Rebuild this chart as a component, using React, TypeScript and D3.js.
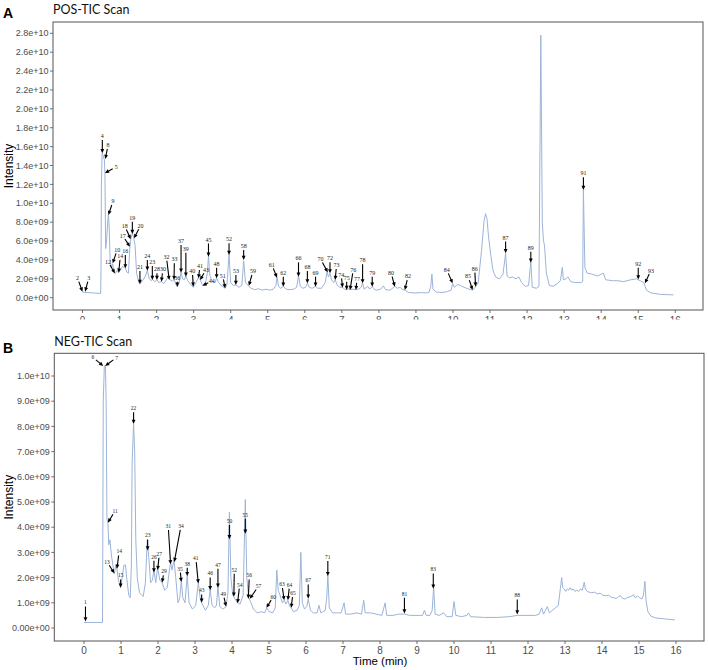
import React from 'react';
import * as d3 from 'd3';

// ---------- DATA (intensity in units of 1e9) ----------
const posTrace: [number, number][] = [
  [0.0, 0.6], [0.1, 0.55], [0.3, 0.5], [0.49, 0.45], [0.5, 3.0], [0.51, 12.0], [0.53, 15.3], [0.56, 15.0],
  [0.59, 14.6], [0.605, 13.3], [0.625, 5.2], [0.65, 6.0], [0.68, 8.0], [0.7, 8.8], [0.72, 7.5], [0.745, 4.0],
  [0.78, 3.2], [0.815, 3.6], [0.85, 2.7], [0.88, 2.55], [0.93, 2.9], [0.975, 2.65], [1.02, 2.9], [1.08, 3.3],
  [1.15, 3.2], [1.2, 2.7], [1.24, 2.6], [1.28, 5.4], [1.31, 6.3], [1.345, 6.8], [1.38, 6.4], [1.42, 5.5],
  [1.46, 2.6], [1.52, 1.6], [1.55, 1.45], [1.62, 1.8], [1.7, 2.3], [1.75, 2.9], [1.8, 2.0], [1.86, 1.8],
  [1.885, 1.95], [1.95, 1.7], [2.01, 1.9], [2.06, 1.6], [2.13, 1.7], [2.2, 1.5], [2.28, 2.0], [2.32, 2.2],
  [2.36, 1.9], [2.42, 1.75], [2.47, 1.9], [2.52, 1.4], [2.56, 1.15], [2.61, 1.6], [2.66, 2.7], [2.7, 2.0],
  [2.75, 1.9], [2.79, 2.3], [2.84, 1.8], [2.92, 1.4], [2.99, 1.1], [3.06, 1.6], [3.13, 2.1], [3.18, 1.9],
  [3.24, 1.3], [3.32, 1.6], [3.37, 2.6], [3.4, 4.4], [3.44, 2.3], [3.52, 1.6], [3.58, 1.6], [3.62, 2.1],
  [3.66, 1.7], [3.74, 1.3], [3.85, 1.0], [3.9, 1.4], [3.955, 4.6], [4.0, 1.6], [4.07, 1.3], [4.14, 1.35],
  [4.22, 1.1], [4.3, 1.3], [4.35, 3.9], [4.4, 1.6], [4.49, 1.2], [4.55, 1.0], [4.65, 0.85], [4.75, 0.95],
  [4.85, 0.8], [4.95, 0.9], [5.05, 0.8], [5.15, 0.9], [5.22, 1.3], [5.25, 2.2], [5.29, 1.2], [5.35, 1.0],
  [5.42, 1.2], [5.5, 0.9], [5.6, 0.85], [5.7, 0.9], [5.78, 1.1], [5.83, 2.3], [5.88, 1.2], [5.95, 1.0],
  [6.02, 1.1], [6.07, 1.55], [6.12, 1.1], [6.2, 1.0], [6.29, 1.2], [6.35, 1.0], [6.45, 1.0], [6.55, 1.6],
  [6.6, 2.7], [6.64, 2.2], [6.68, 2.6], [6.72, 1.9], [6.78, 1.6], [6.82, 1.9], [6.88, 1.3], [6.95, 1.1],
  [7.02, 1.1], [7.07, 0.9], [7.13, 0.85], [7.18, 0.95], [7.22, 0.85], [7.3, 0.9], [7.38, 0.85], [7.45, 0.9],
  [7.52, 1.1], [7.56, 1.55], [7.6, 0.9], [7.7, 1.2], [7.75, 0.9], [7.82, 1.2], [7.88, 0.85], [7.95, 0.8],
  [8.05, 0.9], [8.12, 1.25], [8.18, 0.85], [8.3, 0.8], [8.43, 1.2], [8.5, 1.0], [8.58, 1.1], [8.62, 0.9],
  [8.7, 0.8], [8.8, 0.55], [9.0, 0.5], [9.15, 0.55], [9.25, 0.5], [9.35, 0.55], [9.4, 1.2], [9.43, 2.5],
  [9.46, 0.9], [9.55, 0.6], [9.7, 0.55], [9.85, 0.65], [9.95, 0.8], [9.99, 1.5], [10.04, 1.1], [10.12, 1.4],
  [10.2, 1.3], [10.3, 1.1], [10.4, 0.95], [10.53, 0.8], [10.61, 1.15], [10.68, 1.6], [10.77, 5.0], [10.84, 8.2],
  [10.88, 8.9], [10.92, 8.3], [10.96, 6.4], [11.02, 4.5], [11.08, 2.9], [11.15, 2.2], [11.25, 2.0], [11.35, 2.5],
  [11.42, 4.7], [11.46, 2.3], [11.52, 2.1], [11.6, 2.2], [11.7, 2.0], [11.78, 2.2], [11.85, 1.6], [11.95, 1.2],
  [12.04, 1.3], [12.1, 3.8], [12.14, 1.1], [12.25, 1.0], [12.32, 1.2], [12.37, 27.8], [12.41, 8.0], [12.44, 6.1],
  [12.47, 5.5], [12.52, 2.6], [12.6, 1.3], [12.7, 1.2], [12.82, 1.5], [12.9, 1.8], [12.95, 3.2], [12.98, 1.9],
  [13.05, 2.0], [13.1, 2.2], [13.18, 1.7], [13.3, 1.6], [13.45, 1.6], [13.5, 1.7], [13.52, 11.4], [13.56, 3.2],
  [13.62, 2.6], [13.75, 2.5], [13.9, 2.3], [14.06, 2.6], [14.12, 1.9], [14.3, 1.8], [14.45, 1.8], [14.6, 1.7],
  [14.8, 1.9], [14.95, 2.0], [15.05, 1.8], [15.15, 1.6], [15.22, 0.8], [15.35, 0.5], [15.6, 0.35], [15.95, 0.3],
];

const negTrace: [number, number][] = [
  [0.0, 0.22], [0.25, 0.22], [0.5, 0.22], [0.505, 2.0], [0.52, 9.0], [0.55, 10.4], [0.58, 10.4], [0.6, 8.8],
  [0.62, 4.3], [0.645, 4.2], [0.67, 3.3], [0.7, 3.5], [0.74, 2.9], [0.78, 2.5], [0.82, 2.15], [0.86, 2.5],
  [0.89, 2.35], [0.93, 1.9], [0.99, 1.6], [1.03, 2.0], [1.08, 2.5], [1.12, 2.5], [1.16, 1.9], [1.21, 1.3],
  [1.25, 1.2], [1.28, 2.5], [1.3, 6.5], [1.34, 8.1], [1.37, 7.0], [1.4, 3.5], [1.44, 2.0], [1.5, 1.4],
  [1.6, 1.25], [1.66, 1.8], [1.71, 3.5], [1.75, 2.8], [1.8, 1.8], [1.85, 1.9], [1.89, 2.3], [1.94, 1.8],
  [1.99, 2.4], [2.05, 1.9], [2.11, 1.8], [2.18, 1.5], [2.25, 1.6], [2.3, 2.2], [2.34, 2.6], [2.38, 2.3],
  [2.43, 2.7], [2.48, 2.0], [2.54, 1.0], [2.59, 1.2], [2.63, 1.9], [2.67, 1.2], [2.73, 1.0], [2.79, 2.1],
  [2.84, 1.0], [2.93, 0.75], [3.02, 0.9], [3.09, 1.8], [3.14, 1.2], [3.18, 1.0], [3.28, 0.7], [3.36, 0.9],
  [3.41, 1.55], [3.46, 0.9], [3.53, 0.8], [3.58, 0.9], [3.62, 1.65], [3.67, 0.85], [3.76, 0.75], [3.84, 0.85],
  [3.89, 1.4], [3.93, 4.6], [3.97, 2.0], [4.02, 1.3], [4.05, 1.25], [4.1, 1.1], [4.15, 1.0], [4.22, 0.95],
  [4.3, 1.3], [4.36, 5.1], [4.4, 2.0], [4.45, 1.2], [4.5, 1.05], [4.58, 0.75], [4.68, 0.6], [4.8, 0.65],
  [4.88, 0.6], [4.94, 0.8], [5.0, 0.65], [5.1, 0.6], [5.17, 0.8], [5.21, 2.3], [5.25, 1.5], [5.3, 1.3],
  [5.36, 1.0], [5.41, 1.1], [5.46, 0.95], [5.51, 1.1], [5.56, 0.85], [5.6, 0.8], [5.66, 0.65], [5.76, 0.7],
  [5.82, 0.9], [5.86, 3.0], [5.9, 1.0], [5.96, 0.75], [6.02, 0.85], [6.06, 1.15], [6.12, 0.7], [6.2, 0.6],
  [6.3, 0.6], [6.35, 0.9], [6.4, 0.6], [6.52, 0.7], [6.56, 1.2], [6.59, 2.1], [6.63, 0.8], [6.72, 0.6],
  [6.85, 0.6], [6.95, 0.6], [7.03, 1.0], [7.07, 0.55], [7.2, 0.55], [7.38, 0.6], [7.5, 0.55], [7.56, 1.1],
  [7.6, 0.6], [7.75, 0.6], [7.9, 0.55], [8.05, 0.5], [8.14, 1.0], [8.18, 0.5], [8.35, 0.5], [8.5, 0.55],
  [8.66, 0.55], [8.8, 0.5], [9.0, 0.5], [9.15, 0.5], [9.2, 0.7], [9.25, 0.5], [9.35, 0.5], [9.41, 0.7],
  [9.45, 1.6], [9.49, 0.55], [9.6, 0.5], [9.72, 0.6], [9.8, 0.45], [9.95, 0.45], [10.0, 1.05], [10.05, 0.5],
  [10.2, 0.45], [10.35, 0.5], [10.39, 0.6], [10.45, 0.45], [10.8, 0.42], [11.2, 0.42], [11.5, 0.45], [11.71, 0.5],
  [12.0, 0.5], [12.2, 0.5], [12.3, 0.55], [12.37, 0.8], [12.42, 0.55], [12.52, 0.85], [12.58, 0.6], [12.7, 0.75],
  [12.82, 0.9], [12.91, 2.0], [12.94, 1.6], [12.98, 1.55], [13.02, 1.45], [13.06, 1.55], [13.1, 1.5], [13.14, 1.6],
  [13.18, 1.5], [13.22, 1.55], [13.27, 1.45], [13.32, 1.5], [13.37, 1.45], [13.42, 1.55], [13.47, 1.5], [13.52, 1.82],
  [13.55, 1.55], [13.6, 1.45], [13.66, 1.42], [13.72, 1.4], [13.8, 1.42], [13.88, 1.35], [13.95, 1.38], [14.02, 1.3],
  [14.1, 1.28], [14.18, 1.3], [14.25, 1.22], [14.32, 1.2], [14.38, 1.17], [14.45, 1.25], [14.5, 1.28], [14.55, 1.18],
  [14.62, 1.15], [14.7, 1.22], [14.78, 1.25], [14.85, 1.32], [14.9, 1.2], [14.96, 1.27], [15.02, 1.2], [15.08, 1.15],
  [15.12, 1.3], [15.16, 1.85], [15.19, 1.1], [15.24, 0.65], [15.32, 0.47], [15.45, 0.4], [15.7, 0.36], [15.97, 0.32],
];

// annotated peaks: [label, time (min), intensity (1e9) at arrow tip]
const posPeaks: [string, number, number][] = [
  ['2', 0.0, 0.64], ['3', 0.07, 0.64], ['4', 0.535, 15.3], ['8', 0.616, 14.7], ['5', 0.607, 13.2],
  ['9', 0.7, 8.76], ['10', 0.815, 3.64], ['12', 0.877, 2.58], ['14', 0.976, 2.65], ['16', 1.156, 3.11],
  ['17', 1.28, 5.4], ['18', 1.3, 6.2], ['19', 1.345, 6.74], ['20', 1.39, 6.29], ['21', 1.55, 1.45],
  ['24', 1.75, 2.86], ['23', 1.885, 1.87], ['28', 2.01, 1.87], ['30', 2.13, 1.7], ['32', 2.34, 1.87],
  ['33', 2.47, 1.87], ['36', 2.56, 1.17], ['37', 2.66, 2.65], ['39', 2.79, 2.23], ['40', 2.99, 1.17],
  ['41', 3.13, 2.05], ['43', 3.17, 1.87], ['44', 3.24, 1.27], ['45', 3.4, 4.34], ['48', 3.62, 2.05],
  ['51', 3.85, 0.99], ['52', 3.955, 4.52], ['53', 4.14, 1.34], ['58', 4.35, 3.99], ['59', 4.49, 1.27],
  ['61', 5.25, 2.12], ['62', 5.42, 1.17], ['66', 5.83, 2.23], ['68', 6.07, 1.52], ['69', 6.29, 1.17],
  ['70', 6.62, 2.68], ['72', 6.68, 2.58], ['73', 6.82, 1.87], ['74', 7.02, 1.06], ['75', 7.13, 0.81],
  ['76', 7.22, 0.81], ['77', 7.38, 0.81], ['78', 7.56, 1.52], ['79', 7.82, 1.17], ['80', 8.43, 1.17],
  ['82', 8.7, 0.81], ['84', 9.99, 1.52], ['85', 10.53, 0.81], ['86', 10.61, 1.17], ['87', 11.42, 4.7],
  ['89', 12.1, 3.71], ['91', 13.52, 11.4], ['92', 15.0, 1.94], ['93', 15.18, 1.52],
];

const negPeaks: [string, number, number][] = [
  ['1', 0.04, 0.26], ['6', 0.52, 10.4], ['7', 0.57, 10.4], ['11', 0.645, 4.18], ['13', 0.82, 2.17],
  ['14', 0.89, 2.35], ['15', 0.99, 1.6], ['22', 1.34, 8.1], ['23', 1.72, 3.08], ['26', 1.89, 2.2],
  ['27', 1.99, 2.3], ['29', 2.11, 1.8], ['31', 2.34, 2.53], ['34', 2.44, 2.62], ['35', 2.63, 1.83],
  ['38', 2.79, 2.06], ['41', 3.09, 1.77], ['43', 3.18, 1.0], ['46', 3.41, 1.5], ['47', 3.62, 1.6],
  ['49', 3.84, 0.85], ['50', 3.93, 3.52], ['52', 4.05, 1.24], ['54', 4.15, 0.98], ['55', 4.36, 3.74],
  ['56', 4.44, 1.16], ['57', 4.48, 1.16], ['60', 4.93, 0.8], ['63', 5.41, 1.1], ['64', 5.51, 1.1],
  ['65', 5.6, 0.8], ['67', 6.06, 1.16], ['71', 6.59, 2.06], ['81', 8.66, 0.58], ['83', 9.44, 1.56],
  ['88', 11.71, 0.54],
];

const timeTicks = d3.range(0, 17, 1);
const posIntensityTicks = d3.range(0, 28.001, 2);
const negIntensityTicks = d3.range(0, 10.001, 1);

// ---------- LAYOUT (arrow tail offsets in px, relative to the tip) ----------
const posArrowLayout: Record<string, [number, number]> = {
  '2': [-3.7, -10], '3': [2.7, -10], '4': [0, -13.3], '8': [2, -10], '5': [7.7, -4.3], '9': [3.3, -10],
  '10': [3.3, -10], '12': [-5, -8.3], '14': [1.3, -12.7], '16': [0, -13.3], '17': [-5, -7.7], '18': [-4.3, -9.7],
  '19': [0, -12.3], '20': [4.7, -9], '21': [0, -13], '24': [0, -10.7], '23': [0, -14], '28': [0, -6.7],
  '30': [1, -8.3], '32': [-2.3, -19.3], '33': [0.3, -16.7], '36': [0, -5], '37': [0, -27.7], '39': [0, -24],
  '40': [-0.7, -11.7], '41': [1, -8.3], '43': [4, -6.7], '44': [5.7, -3], '45': [0, -13.3], '48': [0, -10.7],
  '51': [-1.7, -9], '52': [0, -11.7], '53': [0, -10], '58': [0, -10], '59': [3, -10.7], '61': [-3.7, -9.3],
  '62': [0, -10], '66': [0, -14.3], '68': [0, -12.3], '69': [0, -10], '70': [-5.3, -10], '72': [0, -11],
  '73': [1, -11], '74': [-1, -9.3], '75': [0, -8.3], '76': [2.7, -16.7], '77': [0.7, -7.3], '78': [0, -19],
  '79': [0, -10], '80': [-2.7, -10], '82': [2.3, -10], '84': [-4.3, -10], '85': [-3.3, -10], '86': [-0.7, -14],
  '87': [0, -11.7], '89': [0, -11], '91': [0, -12.7], '92': [0, -11.7], '93': [4.3, -9.3],
};

const negArrowLayout: Record<string, [number, number]> = {
  '1': [0, -15], '6': [-7.3, -6], '7': [8.3, -6], '11': [5.1, -8.3], '13': [-5.1, -8], '14': [1.7, -13.3],
  '15': [0, -8.3], '22': [0, -11.7], '23': [0, -11], '26': [0, -11.7], '27': [1.3, -12.3], '29': [1.3, -7.3],
  '31': [-2.1, -34.3], '34': [6, -32], '35': [-0.9, -9.3], '38': [0, -8.3], '41': [-2.1, -21.3], '43': [0, -8.3],
  '46': [0, -12.7], '47': [0, -19], '49': [-2, -9], '50': [0, -14.3], '52': [0.4, -23], '54': [1.7, -14.7],
  '55': [0, -15], '56': [0.9, -19.3], '57': [6.4, -9.3], '60': [4.7, -7.7], '63': [-1.7, -12.3], '64': [1.3, -11.7],
  '65': [1.3, -10.7], '67': [0, -14.3], '71': [0, -15], '81': [0, -15.7], '83': [0, -15.3], '88': [0, -15],
};

const AXIS_FONT = '"Liberation Sans", Arial, sans-serif';
const LINE_COLOR = '#9cb4d8';
const AXIS_COLOR = '#4d4d4d';
const BOX_COLOR = '#555555';

function sci(v: number, zeroLabel: string): string {
  if (v === 0) return zeroLabel;
  const val = v * 1e9;
  const exp = Math.floor(Math.log10(val) + 1e-9);
  const mant = val / Math.pow(10, exp);
  return `${mant.toFixed(1)}e+${String(exp).padStart(2, '0')}`;
}

type PanelProps = {
  id: string;
  letter: string;
  title: string;
  box: { left: number; right: number; top: number; bottom: number };
  xRange: [number, number];
  yDomainMax: number;
  yRange: [number, number];
  yTicks: number[];
  zeroLabel: string;
  trace: [number, number][];
  peaks: [string, number, number][];
  layout: Record<string, [number, number]>;
  letterY: number;
  titleY: number;
  xLabelsClipY?: number;
  labelFont: number;
};

function Panel(p: PanelProps) {
  const x = d3.scaleLinear().domain([0, 16]).range(p.xRange);
  const y = d3.scaleLinear().domain([0, p.yDomainMax]).range(p.yRange);
  const line = d3
    .line<[number, number]>()
    .x((d) => x(d[0]))
    .y((d) => y(d[1]));
  const { left, right, top, bottom } = p.box;
  const clipId = `clip-${p.id}`;
  const midY = (top + bottom) / 2;
  const clipped = p.xLabelsClipY !== undefined;

  return (
    <g>
      <text x={3} y={p.letterY} fontFamily={AXIS_FONT} fontWeight="bold" fontSize={14} fill="#000">
        {p.letter}
      </text>
      <text x={left} y={p.titleY} fontFamily="Lato, 'Open Sans', sans-serif" fontSize={12.5} fill="#111">
        {p.title}
      </text>
      <text
        transform={`translate(12.5,${midY}) rotate(-90)`}
        textAnchor="middle"
        fontFamily={AXIS_FONT}
        fontSize={12}
        fill="#000"
      >
        Intensity
      </text>
      {p.yTicks.map((t) => (
        <g key={`y${t}`}>
          <line x1={left - 3} x2={left} y1={y(t)} y2={y(t)} stroke={AXIS_COLOR} strokeWidth={0.8} />
          <text
            x={left - 4.5}
            y={y(t)}
            dy="0.35em"
            textAnchor="end"
            fontFamily={AXIS_FONT}
            fontSize={9}
            fill={AXIS_COLOR}
          >
            {sci(t, p.zeroLabel)}
          </text>
        </g>
      ))}
      {clipped && (
        <defs>
          <clipPath id={clipId}>
            <rect x={0} y={0} width={708} height={p.xLabelsClipY} />
          </clipPath>
        </defs>
      )}
      <g clipPath={clipped ? `url(#${clipId})` : undefined}>
        {timeTicks.map((t) => (
          <g key={`x${t}`}>
            <line x1={x(t)} x2={x(t)} y1={bottom} y2={bottom + 3} stroke={AXIS_COLOR} strokeWidth={0.8} />
            <text
              x={x(t)}
              y={bottom + (clipped ? 14 : 13)}
              textAnchor="middle"
              fontFamily={AXIS_FONT}
              fontSize={10}
              fill={AXIS_COLOR}
            >
              {t}
            </text>
          </g>
        ))}
      </g>
      <path d={line(p.trace) || ''} fill="none" stroke={LINE_COLOR} strokeWidth={1} strokeLinejoin="round" />
      {p.peaks.map(([label, t, v]) => {
        const tipX = x(t);
        const tipY = y(v);
        const [dx, dy] = p.layout[label] || [0, -12];
        const tailX = tipX + dx;
        const tailY = tipY + dy;
        const len = Math.hypot(dx, dy);
        const ux = -dx / len;
        const uy = -dy / len;
        const nx = -uy;
        const ny = ux;
        const hl = 4.2;
        const hw = 1.9;
        const bx = tipX - ux * hl;
        const by = tipY - uy * hl;
        const lx = tailX - ux * 4;
        const ly = tailY - uy * 4;
        return (
          <g key={`a${label}`}>
            <line x1={tailX} y1={tailY} x2={bx + ux * 0.5} y2={by + uy * 0.5} stroke="#000" strokeWidth={1.1} />
            <polygon
              points={`${tipX},${tipY} ${bx + nx * hw},${by + ny * hw} ${bx - nx * hw},${by - ny * hw}`}
              fill="#000"
            />
            <text
              x={lx}
              y={ly}
              dy="0.35em"
              textAnchor="middle"
              fontFamily='"Liberation Serif", "Times New Roman", serif'
              fontSize={p.labelFont}
              fill="#222"
            >
              {label}
            </text>
          </g>
        );
      })}
      <rect
        x={left}
        y={top}
        width={right - left}
        height={bottom - top}
        fill="none"
        stroke={BOX_COLOR}
        strokeWidth={1}
      />
    </g>
  );
}

export default function App() {
  return (
    <svg
      width={708}
      height={670}
      viewBox="0 0 708 670"
      style={{ position: 'absolute', left: 0, top: 0, background: '#fff' }}
    >
      <rect x={0} y={0} width={708} height={670} fill="#fff" />
      <Panel
        id="pos"
        letter="A"
        title="POS-TIC Scan"
        box={{ left: 53, right: 703, top: 22, bottom: 310 }}
        xRange={[82.5, 675.3]}
        yDomainMax={28}
        yRange={[297.7, 33.3]}
        yTicks={posIntensityTicks}
        zeroLabel="0.0e+00"
        trace={posTrace}
        peaks={posPeaks}
        layout={posArrowLayout}
        letterY={18}
        titleY={13.5}
        xLabelsClipY={319.5}
        labelFont={6}
      />
      <Panel
        id="neg"
        letter="B"
        title="NEG-TIC Scan"
        box={{ left: 54.3, right: 704, top: 353.3, bottom: 641 }}
        xRange={[84, 676]}
        yDomainMax={10}
        yRange={[628, 376]}
        yTicks={negIntensityTicks}
        zeroLabel="0.00e+00"
        trace={negTrace}
        peaks={negPeaks}
        layout={negArrowLayout}
        letterY={352.5}
        titleY={346}
        labelFont={5.5}
      />
      <text x={380} y={665} textAnchor="middle" fontFamily={AXIS_FONT} fontSize={11.5} fill="#000">
        Time (min)
      </text>
    </svg>
  );
}
